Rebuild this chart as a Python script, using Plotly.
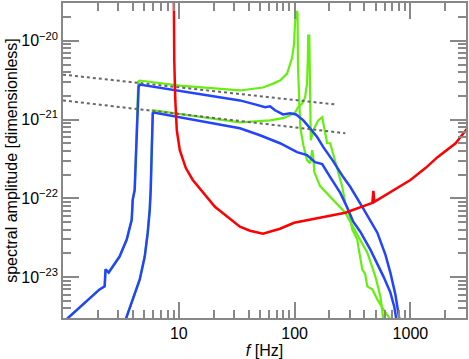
import plotly.graph_objects as go

# detector noise curve (red)
noise_f = [9.05, 9.14, 9.33, 9.61, 10.2, 11.5, 13.2, 20.5, 33.7, 41.2, 53.3, 74.8, 99.0,
           166, 274, 469, 479, 488, 1000, 1349, 1714, 2455, 3100]
noise_h = [4.28e-20, 5.59e-21, 1.75e-21, 7.31e-22, 4.08e-22, 2.42e-22, 1.71e-22, 7.79e-23,
           4.35e-23, 3.87e-23, 3.56e-23, 4.11e-23, 4.89e-23, 5.66e-23, 6.55e-23, 8.75e-23,
           1.24e-22, 9.02e-23, 1.71e-22, 2.42e-22, 3.33e-22, 5.00e-22, 7.74e-22]

# upper blue signal
blue1_f = [1.07, 2.07, 2.29, 2.33, 2.48, 3.08, 3.55, 3.92, 4.00, 4.16, 4.25, 4.33, 4.42, 4.46,
           4.50, 4.60, 33.7, 45.5, 55.6, 61.4, 67.8, 79.4, 91.4, 103, 119, 136, 157, 177,
           215, 263, 303, 384, 518, 608, 671, 741, 787, 803]
blue1_h = [2.9e-24, 6.97e-24, 7.61e-24, 1.25e-23, 1.14e-23, 1.82e-23, 2.99e-23, 5.33e-23,
           9.55e-23, 1.28e-22, 3.05e-22, 6.70e-22, 1.31e-21, 1.75e-21, 2.62e-21, 2.78e-21,
           1.75e-21, 1.56e-21, 1.43e-21, 1.47e-21, 1.31e-21, 1.16e-21, 1.20e-21, 1.16e-21,
           9.77e-22, 7.74e-22, 5.96e-22, 4.46e-22, 2.97e-22, 1.86e-22, 1.39e-22, 7.79e-23,
           3.66e-23, 1.93e-23, 1.14e-23, 6.03e-24, 3.68e-24, 2.9e-24]

# lower blue signal
blue2_f = [3.48, 4.00, 4.60, 5.08, 5.39, 5.61, 5.72, 5.84, 5.90, 5.96, 6.08, 33.7, 50.2,
           74.8, 105, 128, 150, 173, 203, 248, 285, 321, 369, 451, 584, 671, 727, 756]
blue2_h = [2.9e-24, 5.21e-24, 9.33e-24, 1.82e-23, 3.66e-23, 7.14e-23, 1.28e-22, 4.08e-22,
           9.77e-22, 1.20e-21, 1.23e-21, 7.74e-22, 6.32e-22, 5.00e-22, 3.85e-22, 3.53e-22,
           2.88e-22, 2.72e-22, 1.86e-22, 1.17e-22, 7.57e-23, 5.04e-23, 3.77e-23, 2.23e-23,
           1.02e-23, 6.39e-24, 4.13e-24, 2.9e-24]

# upper green signal
green1_f = [1.07, 2.07, 2.29, 2.33, 2.48, 3.08, 3.55, 3.92, 4.00, 4.16, 4.25, 4.33, 4.42,
            4.46, 4.60, 10.2, 33.7, 53.3, 65.2, 74.8, 86.1, 95.1, 99.0, 101, 104, 106, 107,
            109, 110, 112, 119, 128, 136, 142, 145, 148, 166, 203, 238, 274, 348, 424, 498,
            550, 584]
green1_h = [2.9e-24, 6.97e-24, 7.61e-24, 1.25e-23, 1.14e-23, 1.82e-23, 2.99e-23, 5.33e-23,
            9.55e-23, 1.28e-22, 3.05e-22, 6.70e-22, 1.31e-21, 3.03e-21, 3.13e-21, 2.70e-21,
            2.34e-21, 2.55e-21, 2.86e-21, 3.13e-21, 3.83e-21, 6.10e-21, 9.17e-21, 1.79e-20,
            2.39e-20, 2.26e-20, 4.56e-21, 2.55e-21, 1.20e-21, 7.97e-22, 4.72e-22, 3.05e-22,
            2.80e-22, 4.08e-22, 3.33e-22, 2.15e-22, 1.43e-22, 1.04e-22, 8.26e-23, 6.55e-23,
            3.45e-23, 2.05e-23, 1.02e-23, 5.69e-24, 2.9e-24]

# lower green signal
green2_f = [3.48, 4.00, 4.60, 5.08, 5.39, 5.61, 5.72, 5.84, 5.90, 5.96, 6.08, 33.7, 61.4,
            79.4, 91.4, 101, 107, 116, 123, 128, 130, 131, 134, 135, 136, 137, 138, 145,
            160, 173, 177, 184, 191, 203, 211, 224, 238, 258, 274, 291, 315, 348, 355, 384,
            408, 424, 469, 518, 584, 671]
green2_h = [2.9e-24, 5.21e-24, 9.33e-24, 1.82e-23, 3.66e-23, 7.14e-23, 1.28e-22, 4.08e-22,
            9.77e-22, 1.31e-21, 1.31e-21, 9.23e-22, 9.77e-22, 1.04e-21, 1.13e-21, 1.23e-21,
            1.43e-21, 1.60e-21, 1.91e-21, 2.86e-21, 5.59e-21, 1.16e-20, 1.16e-20, 5.59e-21,
            2.55e-21, 9.77e-22, 5.46e-22, 7.31e-22, 9.77e-22, 1.07e-21, 8.95e-22, 5.96e-22,
            5.00e-22, 5.00e-22, 4.08e-22, 2.80e-22, 2.09e-22, 1.39e-22, 8.75e-23, 7.14e-23,
            3.99e-23, 2.99e-23, 2.43e-23, 1.25e-23, 1.08e-23, 7.61e-24, 6.97e-24, 5.21e-24,
            3.90e-24, 2.9e-24]

# f^(-1/6) reference lines (dotted)
guide1_f = [1.0, 220]
guide1_h = [3.72e-21, 1.56e-21]
guide2_f = [1.0, 274]
guide2_h = [1.75e-21, 6.70e-22]

x_major = [10, 100, 1000]
x_major_text = ['10', '100', '1000']
x_minor = [m * d for d in (1, 10, 100) for m in range(2, 10)] + [2000, 3000]
y_major = [1e-23, 1e-22, 1e-21, 1e-20]
y_major_text = ['10<sup>\u221223</sup>', '10<sup>\u221222</sup>',
                '10<sup>\u221221</sup>', '10<sup>\u221220</sup>']
y_minor = [m * d for d in (1e-24, 1e-23, 1e-22, 1e-21, 1e-20) for m in range(2, 10)]

GREEN = '#66ee11'
BLUE = '#2244ff'
RED = '#ff0000'

fig = go.Figure()
for fx, hy in [(green1_f, green1_h), (green2_f, green2_h)]:
    fig.add_trace(go.Scatter(x=fx, y=hy, mode='lines', line=dict(color=GREEN, width=2.2)))
for fx, hy in [(blue1_f, blue1_h), (blue2_f, blue2_h)]:
    fig.add_trace(go.Scatter(x=fx, y=hy, mode='lines', line=dict(color=BLUE, width=2.5)))
for fx, hy in [(guide1_f, guide1_h), (guide2_f, guide2_h)]:
    fig.add_trace(go.Scatter(x=fx, y=hy, mode='lines',
                             line=dict(color='#666666', width=2, dash='dot')))
fig.add_trace(go.Scatter(x=noise_f, y=noise_h, mode='lines', line=dict(color=RED, width=2.5)))

axis_common = dict(
    type='log', showgrid=False, zeroline=False, automargin=False,
    showline=True, linecolor='#888888', linewidth=1.5, mirror='allticks',
    ticks='inside', tickcolor='#888888', tickwidth=1.5,
    tickfont=dict(size=16, color='black'),
)

fig.update_layout(
    width=469, height=359,
    margin=dict(l=63, r=3, t=3, b=41),
    paper_bgcolor='white', plot_bgcolor='white',
    showlegend=False,
    font=dict(family='Liberation Sans, Arial, sans-serif', size=16, color='black'),
    xaxis=dict(
        axis_common, range=[0, 3.48],
        tickmode='array', tickvals=x_major, ticktext=x_major_text, ticklen=16,
        minor=dict(tickmode='array', tickvals=x_minor, ticks='inside', ticklen=8,
                   tickcolor='#888888', tickwidth=1.5),
        title=dict(text='<i>f</i> [Hz]', font=dict(size=16), standoff=0),
    ),
    yaxis=dict(
        axis_common, range=[-23.52, -19.52],
        tickmode='array', tickvals=y_major, ticktext=y_major_text, ticklen=16,
        minor=dict(tickmode='array', tickvals=y_minor, ticks='inside', ticklen=8,
                   tickcolor='#888888', tickwidth=1.5),
        title=dict(text='spectral amplitude [dimensionless]', font=dict(size=16), standoff=0),
    ),
)

# remove the default page margin so the figure sits at the window's corner
fig.write_html("out.html", config={'displayModeBar': False},
               post_script="document.body.style.margin='0';")
